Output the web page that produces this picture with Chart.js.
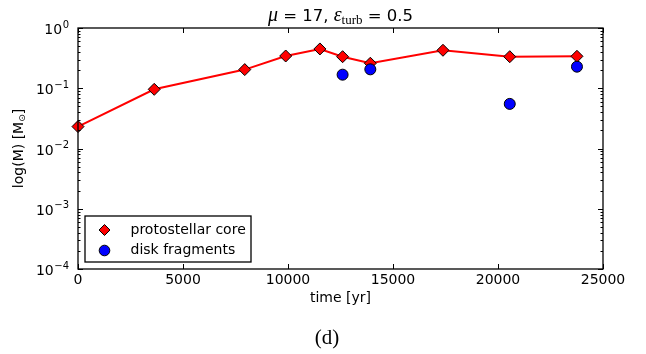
<!DOCTYPE html>
<html><head><meta charset="utf-8">
<script src="https://cdn.jsdelivr.net/npm/chart.js@4/dist/chart.umd.min.js"></script>
<style>html,body{margin:0;padding:0;background:#fff;}#wrap{width:646px;height:354px;position:relative;}</style>
</head><body><div id="wrap"><canvas id="c" width="646" height="354"></canvas></div>
<script>
const coreTimes = [0, 3630, 7940, 9890, 11520, 12600, 13920, 17380, 20560, 23760];
const coreMass = [0.0231, 0.096, 0.204, 0.343, 0.449, 0.334, 0.26, 0.427, 0.334, 0.339];
const fragTimes = [12600, 13920, 20560, 23760];
const fragMass = [0.168, 0.206, 0.055, 0.228];
const xTicks = [0, 5000, 10000, 15000, 20000, 25000];
const yTickExps = [0, -1, -2, -3, -4];
const seriesLabels = ['protostellar core', 'disk fragments'];

const SANS = '"DejaVu Sans", sans-serif';
const SERIF = '"Liberation Serif", "DejaVu Serif", serif';

const decor = {
  id: 'decor',
  afterDraw(chart) {
    const ctx = chart.ctx, a = chart.chartArea;
    const xs = chart.scales.x, ys = chart.scales.y;
    ctx.save();
    ctx.strokeStyle = '#000'; ctx.fillStyle = '#000';
    ctx.lineWidth = 1.3;
    // frame
    ctx.strokeRect(a.left, a.top, a.right - a.left, a.bottom - a.top);
    ctx.lineWidth = 1;
    ctx.beginPath();
    // x major ticks
    xTicks.forEach(v => {
      const px = Math.round(xs.getPixelForValue(v)) + 0.5;
      ctx.moveTo(px, a.bottom); ctx.lineTo(px, a.bottom - 5);
      ctx.moveTo(px, a.top); ctx.lineTo(px, a.top + 5);
    });
    // y major and minor ticks
    yTickExps.forEach(e => {
      const py = Math.round(ys.getPixelForValue(Math.pow(10, e))) + 0.5;
      ctx.moveTo(a.left, py); ctx.lineTo(a.left + 5, py);
      ctx.moveTo(a.right, py); ctx.lineTo(a.right - 5, py);
      if (e < 0) {
        for (let m = 2; m <= 9; m++) {
          const pm = Math.round(ys.getPixelForValue(m * Math.pow(10, e))) + 0.5;
          ctx.moveTo(a.left, pm); ctx.lineTo(a.left + 2.5, pm);
          ctx.moveTo(a.right, pm); ctx.lineTo(a.right - 2.5, pm);
        }
      }
    });
    ctx.stroke();
    // y tick labels 10^e
    ctx.textBaseline = 'alphabetic';
    yTickExps.forEach(e => {
      const py = ys.getPixelForValue(Math.pow(10, e));
      const exp = e === 0 ? '0' : '\u2212' + (-e);
      ctx.font = '10px ' + SANS;
      const ew = ctx.measureText(exp).width;
      const right = a.left - 9;
      ctx.textAlign = 'left';
      ctx.fillText(exp, right - ew, py - 0.5);
      ctx.font = '14px ' + SANS;
      ctx.textAlign = 'right';
      ctx.fillText('10', right - ew - 0.5, py + 6);
    });
    // title
    const parts = [
      {t: '\u03bc', f: 'italic 20px ' + SERIF, dy: 0},
      {t: ' = 17, ', f: '16.5px ' + SANS, dy: 0},
      {t: '\u03b5', f: 'italic 20px ' + SERIF, dy: 0},
      {t: 'turb', f: '13px ' + SERIF, dy: 3},
      {t: ' = 0.5', f: '16.5px ' + SANS, dy: 0}
    ];
    let tw = 0;
    parts.forEach(p => { ctx.font = p.f; p.w = ctx.measureText(p.t).width; tw += p.w; });
    let tx = (a.left + a.right) / 2 - tw / 2;
    ctx.textAlign = 'left';
    parts.forEach(p => { ctx.font = p.f; ctx.fillText(p.t, tx, 21 + p.dy); tx += p.w; });
    // x axis title
    ctx.font = '14px ' + SANS; ctx.textAlign = 'center';
    ctx.fillText('time [yr]', (a.left + a.right) / 2, 302);
    // y axis title rotated
    ctx.save();
    ctx.translate(23, (a.top + a.bottom) / 2);
    ctx.rotate(-Math.PI / 2);
    const yp = [
      {t: 'log(M) [M', f: '14px ' + SANS, dy: 0},
      {t: '\u2299', f: '9px ' + SANS, dy: 2},
      {t: ']', f: '14px ' + SANS, dy: 0}
    ];
    let yw = 0;
    yp.forEach(p => { ctx.font = p.f; p.w = ctx.measureText(p.t).width; yw += p.w; });
    let yx = -yw / 2;
    ctx.textAlign = 'left';
    yp.forEach(p => { ctx.font = p.f; ctx.fillText(p.t, yx, 0 + p.dy); yx += p.w; });
    ctx.restore();
    // (d)
    ctx.font = '21px ' + SERIF; ctx.textAlign = 'center';
    ctx.fillText('(d)', 327, 344);
    // legend
    const lx = 85, ly = 216, lw = 166, lh = 46;
    ctx.fillStyle = '#fff';
    ctx.fillRect(lx, ly, lw, lh);
    ctx.strokeStyle = '#000'; ctx.lineWidth = 1.3;
    ctx.strokeRect(lx, ly, lw, lh);
    ctx.lineWidth = 1;
    // diamond
    const dx = 104.5, dy1 = 230, dy2 = 250.5;
    ctx.beginPath();
    ctx.moveTo(dx, dy1 - 5.5); ctx.lineTo(dx + 5.5, dy1); ctx.lineTo(dx, dy1 + 5.5); ctx.lineTo(dx - 5.5, dy1); ctx.closePath();
    ctx.fillStyle = '#ff0000'; ctx.fill(); ctx.strokeStyle = '#000'; ctx.stroke();
    ctx.beginPath(); ctx.arc(dx, dy2, 5.3, 0, Math.PI * 2);
    ctx.fillStyle = '#0000ff'; ctx.fill(); ctx.stroke();
    ctx.fillStyle = '#000'; ctx.font = '14px ' + SANS; ctx.textAlign = 'left'; ctx.textBaseline = 'middle';
    ctx.fillText(seriesLabels[0], 130.5, dy1);
    ctx.fillText(seriesLabels[1], 130.5, dy2);
    ctx.restore();
  }
};

new Chart(document.getElementById('c'), {
  type: 'scatter',
  data: {
    datasets: [
      {
        label: seriesLabels[0],
        data: coreTimes.map((t, i) => ({x: t, y: coreMass[i]})),
        showLine: true,
        borderColor: '#ff0000',
        borderWidth: 2,
        pointStyle: 'rectRot',
        pointRadius: 6,
        pointBackgroundColor: '#ff0000',
        pointBorderColor: '#000',
        pointBorderWidth: 1,
        order: 2
      },
      {
        label: seriesLabels[1],
        data: fragTimes.map((t, i) => ({x: t, y: fragMass[i]})),
        showLine: false,
        pointStyle: 'circle',
        pointRadius: 5.5,
        pointBackgroundColor: '#0000ff',
        pointBorderColor: '#000',
        pointBorderWidth: 1,
        order: 1
      }
    ]
  },
  options: {
    responsive: false,
    animation: false,
    clip: false,
    layout: {padding: {left: 0, right: 43, top: 28, bottom: 0}},
    plugins: {legend: {display: false}, tooltip: {enabled: false}, title: {display: false}},
    scales: {
      x: {
        type: 'linear', min: 0, max: 25000,
        afterBuildTicks: s => { s.ticks = xTicks.map(v => ({value: v})); },
        afterFit: s => { s.height = 85; },
        grid: {display: false, drawTicks: false, tickLength: 0},
        border: {display: false},
        ticks: {color: '#000', font: {family: SANS, size: 14}, padding: 3, maxRotation: 0, autoSkip: false,
                callback: v => String(v)}
      },
      y: {
        type: 'logarithmic', min: 1e-4, max: 1,
        afterFit: s => { s.width = 78; },
        grid: {display: false, drawTicks: false},
        border: {display: false},
        ticks: {display: false}
      }
    }
  },
  plugins: [decor]
});
</script></body></html>
